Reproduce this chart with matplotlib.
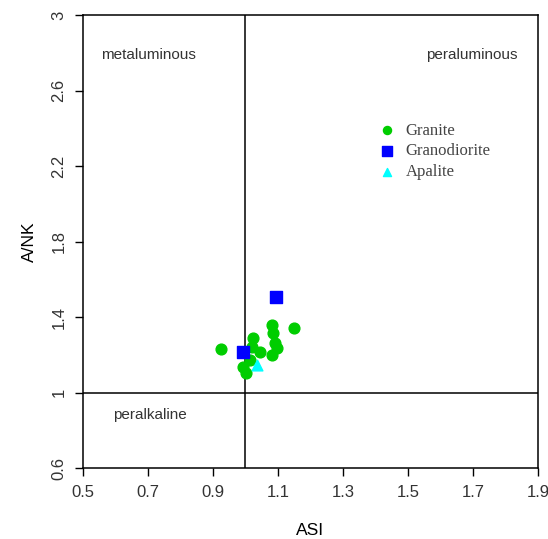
# Diagrama A/NK vs ASI (Shand) para as amostras de granito, granodiorito e aplito
import matplotlib.pyplot as plt

# Dados
granito_asi = [0.924, 1.150, 1.081, 1.086, 1.091, 1.081, 1.096, 1.024, 1.019, 1.045, 0.993, 1.003, 1.014]
granito_ank = [1.229, 1.340, 1.358, 1.314, 1.260, 1.199, 1.234, 1.287, 1.243, 1.216, 1.137, 1.102, 1.172]

granodiorito_asi = [1.094, 0.993]
granodiorito_ank = [1.506, 1.216]

aplito_asi = [1.034]
aplito_ank = [1.146]

xticks = [0.5, 0.7, 0.9, 1.1, 1.3, 1.5, 1.7, 1.9]
yticks = [0.6, 1.0, 1.4, 1.8, 2.2, 2.6, 3.0]
yticklabels = ["0.6", "1", "1.4", "1.8", "2.2", "2.6", "3"]

sans = "Liberation Sans"
serif = "Liberation Serif"

fig = plt.figure(figsize=(5.48, 5.39), dpi=100)
ax = fig.add_axes([0.1515, 0.1317, 0.830, 0.8404])

ax.axvline(1.0, color="black", linewidth=1.1, zorder=1)
ax.axhline(1.0, color="black", linewidth=1.1, zorder=1)

ax.scatter(granito_asi, granito_ank, s=60, marker="o", color="#00CD00", label="Granite", zorder=3)
ax.scatter(aplito_asi, aplito_ank, s=60, marker="^", color="#00FFFF", label="Apalite", zorder=3)
ax.scatter(granodiorito_asi, granodiorito_ank, s=85, marker="s", color="#0000FF", label="Granodiorite", zorder=4)

ax.text(0.70, 2.79, "metaluminous", fontsize=11, family=sans, color="#333333", ha="center", va="center")
ax.text(1.697, 2.79, "peraluminous", fontsize=11, family=sans, color="#333333", ha="center", va="center")
ax.text(0.706, 0.88, "peralkaline", fontsize=11, family=sans, color="#333333", ha="center", va="center")

ax.set_xlim(0.5, 1.9)
ax.set_ylim(0.6, 3.0)
ax.set_xticks(xticks)
ax.set_xticklabels([str(v) for v in xticks], family=sans, fontsize=12, color="#333333")
ax.set_yticks(yticks)
ax.set_yticklabels(yticklabels, family=sans, fontsize=12, color="#333333", rotation=90, va="center")
ax.tick_params(direction="out", length=6, width=1, pad=6)
for s in ax.spines.values():
    s.set_linewidth(1.1)

ax.set_xlabel("ASI", family=sans, fontsize=12.5, labelpad=17)
ax.set_ylabel("A/NK", family=sans, fontsize=12.5, labelpad=10)

# legenda na ordem do original
handles, labels = ax.get_legend_handles_labels()
ordem = [0, 2, 1]
leg = ax.legend([handles[i] for i in ordem], [labels[i] for i in ordem],
                loc="upper left", bbox_to_anchor=(0.64, 0.777), frameon=False,
                prop={"family": serif, "size": 12}, handlelength=0.8,
                handletextpad=0.7, labelspacing=0.28, markerscale=0.75,
                borderaxespad=0)
for t in leg.get_texts():
    t.set_color("#444444")

fig.savefig("out.png", dpi=100)
